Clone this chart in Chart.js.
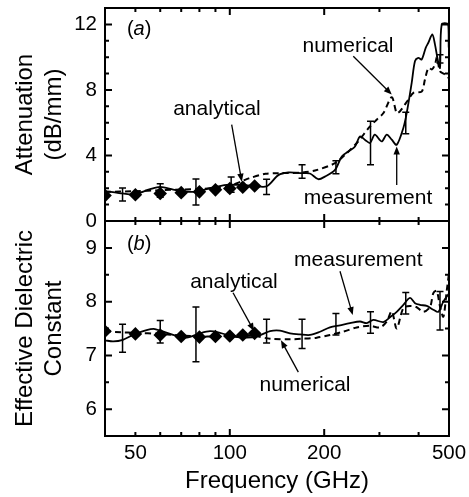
<!DOCTYPE html>
<html><head><meta charset="utf-8">
<script src="https://cdn.jsdelivr.net/npm/chart.js@4.4.1/dist/chart.umd.min.js"></script>
<style>
html,body{margin:0;padding:0;background:#fff;}
#wrap{position:relative;width:469px;height:497px;}
canvas{position:absolute;left:0;top:0;}
</style></head><body>
<div id="wrap"><canvas id="cA" width="469" height="497"></canvas><canvas id="cB" width="469" height="497"></canvas></div>
<script>
// ---------- data ----------
const xTickLabels = [50, 100, 200, 500];
const xMinorTicks = [50, 60, 70, 80, 90, 300, 400];
const xMajorTicks = [100, 200];

const attenTicks = [0, 4, 8, 12];
const attenMinorTicks = [1, 2, 3, 5, 6, 7, 9, 10, 11];
const dielTicks = [6, 7, 8, 9];
const dielMinorTicks = [6.5, 7.5, 8.5];

// (a) attenuation, dB/mm
const attenMeasFreq = [40, 42.4, 45.6, 49.5, 55.7, 60, 66, 71, 78.4, 86.5, 97.8, 107.8, 118.9, 131.2, 142.8, 153.7, 169.6, 180, 191.5, 201, 216.5, 227.5, 238.7, 250.8, 260, 270, 280, 290, 305, 316.5, 328.4, 340.6, 357.6, 366.6, 380.2, 389.6, 399.1, 409.1, 421.4, 429.6, 442.4, 451, 460.2, 468, 474, 497, 499, 500];
const attenMeas     = [1.80, 1.76, 1.68, 1.63, 1.94, 2.08, 1.92, 1.80, 1.79, 2.00, 2.20, 2.20, 2.14, 2.12, 2.80, 2.96, 2.92, 2.90, 2.55, 2.71, 3.12, 3.94, 4.24, 4.55, 5.16, 4.95, 4.76, 5.27, 4.86, 5.27, 4.96, 4.65, 5.68, 6.60, 8.43, 9.76, 9.96, 9.86, 10.57, 10.88, 11.39, 10.78, 9.86, 9.35, 12.0, 12.0, 10.6, 11.0];
const attenNumFreq  = [40, 50, 60, 70, 80, 90, 100, 110, 115, 130, 143, 170, 187, 216.5, 236, 254, 280, 294, 309, 328.4, 340.6, 349, 371, 385, 409, 419, 430, 441, 451, 458, 468, 486, 500];
const attenNum      = [1.78, 1.82, 1.88, 1.92, 1.95, 2.02, 2.15, 2.45, 2.6, 2.88, 2.92, 2.96, 3.08, 3.53, 4.14, 4.76, 5.77, 6.18, 6.59, 7.55, 6.59, 6.7, 7.41, 7.82, 7.9, 8.63, 9.35, 9.25, 9.55, 10.0, 9.14, 8.94, 8.7];
const analyticFreq  = [40, 50, 60, 70, 80, 90, 100, 110, 120];
const attenAna      = [1.55, 1.60, 1.68, 1.73, 1.78, 1.90, 1.98, 2.06, 2.14];
const errFreq       = [45.5, 60, 78, 101, 131, 170, 218, 281, 364, 468];
const attenErrMid   = [1.62, 1.86, 1.77, 2.22, 2.08, 3.02, 3.28, 4.76, 5.98, 9.9];
const attenErrHalf  = [0.40, 0.41, 0.79, 0.46, 0.47, 0.41, 0.40, 1.33, 0.65, 0.25];

// (b) effective dielectric constant
const dielMeasFreq = [40, 42.5, 45.6, 49.2, 54.3, 57.7, 66, 72.9, 80.3, 86.5, 93, 102.6, 113.2, 123, 134.4, 144.6, 155.6, 167.5, 180.2, 193.9, 208.6, 224.6, 241.7, 260.1, 273.2, 286.7, 308.7, 324.2, 340.6, 357.6, 375.5, 389.6, 404, 424.6, 445.7, 462.3, 479.7, 500];
const dielMeas     = [7.28, 7.26, 7.29, 7.38, 7.47, 7.49, 7.38, 7.33, 7.41, 7.45, 7.42, 7.35, 7.33, 7.36, 7.45, 7.46, 7.41, 7.39, 7.38, 7.44, 7.52, 7.56, 7.60, 7.63, 7.60, 7.66, 7.62, 7.71, 7.81, 7.94, 8.07, 7.97, 7.94, 7.92, 7.85, 7.81, 8.0, 8.15];
const dielNumFreq  = [40, 45, 50, 60, 70, 80, 90, 100, 110, 120, 134.4, 155.6, 171.2, 189.3, 208.6, 230.1, 253.9, 279.9, 301.3, 316.5, 328.4, 340.6, 357.6, 375.5, 393.4, 414.1, 435, 445.7, 456.8, 468, 479.7, 491.7, 500];
const dielNum      = [7.45, 7.43, 7.42, 7.40, 7.37, 7.35, 7.35, 7.35, 7.36, 7.36, 7.31, 7.30, 7.31, 7.33, 7.38, 7.44, 7.52, 7.55, 7.52, 7.63, 7.82, 7.5, 7.88, 7.92, 7.90, 7.81, 7.90, 8.16, 8.2, 7.91, 7.72, 8.2, 8.53];
const dielAna      = [7.45, 7.40, 7.38, 7.35, 7.34, 7.35, 7.36, 7.38, 7.41];
const dielErrMid   = [7.32, 7.44, 7.39, null, 7.45, 7.40, 7.58, 7.61, 7.97, 7.83];
const dielErrHalf  = [0.26, 0.21, 0.51, null, 0.22, 0.27, 0.20, 0.20, 0.20, 0.36];

// ---------- rendering ----------
const FAM = "'Liberation Sans', Arial, Helvetica, sans-serif";
const pts = (fs, vs) => fs.map((f, i) => ({x: f, y: vs[i]}));

function drawArrow(ctx, x1, y1, x2, y2) {
  const a = Math.atan2(y2 - y1, x2 - x1), L = 8, W = 3.2;
  ctx.beginPath(); ctx.moveTo(x1, y1);
  ctx.lineTo(x2 - L * 0.7 * Math.cos(a), y2 - L * 0.7 * Math.sin(a)); ctx.stroke();
  ctx.beginPath(); ctx.moveTo(x2, y2);
  ctx.lineTo(x2 - L * Math.cos(a) + W * Math.sin(a), y2 - L * Math.sin(a) - W * Math.cos(a));
  ctx.lineTo(x2 - L * Math.cos(a) - W * Math.sin(a), y2 - L * Math.sin(a) + W * Math.cos(a));
  ctx.closePath(); ctx.fill();
}

function makeDecor(p) {
  return {
    id: 'decor',
    afterDatasetsDraw(chart) {
      const {ctx, chartArea: a, scales: {x, y}} = chart;
      ctx.save();
      ctx.strokeStyle = '#000'; ctx.fillStyle = '#000';
      // error bars
      ctx.lineWidth = 1.5;
      ctx.beginPath();
      errFreq.forEach((f, i) => {
        const c = p.errMid[i], e = p.errHalf[i];
        if (c == null) return;
        const px = x.getPixelForValue(f), p1 = y.getPixelForValue(c - e), p2 = y.getPixelForValue(c + e);
        ctx.moveTo(px, p1); ctx.lineTo(px, p2);
        ctx.moveTo(px - 3.5, p1); ctx.lineTo(px + 3.5, p1);
        ctx.moveTo(px - 3.5, p2); ctx.lineTo(px + 3.5, p2);
      });
      ctx.stroke();
      // frame + inward ticks
      ctx.lineWidth = 2;
      ctx.strokeRect(a.left, a.top, a.right - a.left, a.bottom - a.top);
      ctx.beginPath();
      const xt = (list, len) => list.forEach(f => {
        const px = x.getPixelForValue(f);
        ctx.moveTo(px, a.bottom); ctx.lineTo(px, a.bottom - len);
        ctx.moveTo(px, a.top); ctx.lineTo(px, a.top + len);
      });
      const yt = (list, len) => list.forEach(v => {
        const py = y.getPixelForValue(v);
        ctx.moveTo(a.left, py); ctx.lineTo(a.left + len, py);
        ctx.moveTo(a.right, py); ctx.lineTo(a.right - len, py);
      });
      xt(xMinorTicks, 4); xt(xMajorTicks, 7);
      yt(p.yMinor, 4); yt(p.yTicks, 7);
      ctx.stroke();
      // annotations
      ctx.lineWidth = 1.3;
      ctx.font = '21px ' + FAM;
      ctx.textAlign = 'center'; ctx.textBaseline = 'alphabetic';
      p.notes.forEach(n => {
        ctx.fillText(n.text, x.getPixelForValue(n.at[0]), y.getPixelForValue(n.at[1]));
        drawArrow(ctx, x.getPixelForValue(n.from[0]), y.getPixelForValue(n.from[1]),
                       x.getPixelForValue(n.to[0]), y.getPixelForValue(n.to[1]));
      });
      // panel label "(a)" / "(b)"
      ctx.textAlign = 'left'; ctx.textBaseline = 'middle';
      let lx = x.getPixelForValue(p.tag.at[0]); const ly = y.getPixelForValue(p.tag.at[1]);
      ctx.font = '20px ' + FAM; ctx.fillText('(', lx, ly); lx += ctx.measureText('(').width;
      ctx.font = 'italic 20px ' + FAM; ctx.fillText(p.tag.letter, lx, ly); lx += ctx.measureText(p.tag.letter).width;
      ctx.font = '20px ' + FAM; ctx.fillText(')', lx, ly);
      ctx.restore();
    }
  };
}

function panel(canvasId, p) {
  return new Chart(document.getElementById(canvasId), {
    type: 'line',
    data: { datasets: [
      { label: 'measurement', data: pts(p.measF, p.measV), borderColor: '#000', borderWidth: 1.8, pointRadius: 0, tension: 0.3, fill: false, order: 3 },
      { label: 'numerical', data: pts(p.numF, p.numV), borderColor: '#000', borderWidth: 2, borderDash: [6, 4], pointRadius: 0, tension: 0.3, fill: false, order: 2 },
      { label: 'analytical', data: pts(analyticFreq, p.anaV), showLine: false, pointStyle: 'rectRot', pointRadius: 6.8, pointBackgroundColor: '#000', pointBorderColor: '#000', pointBorderWidth: 0, order: 1 }
    ]},
    options: {
      responsive: false, animation: false, events: [],
      layout: { padding: { top: p.padTop, right: 20, left: 0, bottom: 0 } },
      plugins: { legend: { display: false }, tooltip: { enabled: false } },
      scales: {
        x: {
          type: 'logarithmic', min: 40, max: 500, position: 'bottom',
          grid: { display: false, drawTicks: false, tickLength: 0 }, border: { display: false },
          ticks: { display: p.showX, autoSkip: false, maxRotation: 0, padding: 5, color: '#000',
                   font: { family: FAM, size: 20.5 }, callback: v => String(v) },
          afterBuildTicks: s => { s.ticks = xTickLabels.map(v => ({ value: v })); },
          title: { display: p.showX, text: 'Frequency (GHz)', color: '#000', font: { family: FAM, size: 24 }, padding: { top: 0, bottom: 1 } },
          afterFit: s => { s.height = p.xAxisHeight; s.paddingLeft = 0; s.paddingRight = 0; }
        },
        y: {
          min: p.yMin, max: p.yMax,
          grid: { display: false, drawTicks: false, tickLength: 0 }, border: { display: false },
          ticks: { padding: 8, color: '#000', font: { family: FAM, size: 20.5 }, callback: v => String(v) },
          afterBuildTicks: s => { s.ticks = p.yTicks.map(v => ({ value: v })); },
          title: { display: true, text: p.yTitle, color: '#000', font: { family: FAM, size: 24 }, padding: { top: 11, bottom: 0 } },
          afterFit: s => { s.width = 105; s.paddingTop = 0; s.paddingBottom = 0; }
        }
      }
    },
    plugins: [makeDecor(p)]
  });
}

panel('cA', {
  measF: attenMeasFreq, measV: attenMeas, numF: attenNumFreq, numV: attenNum, anaV: attenAna,
  errMid: attenErrMid, errHalf: attenErrHalf,
  yMin: 0, yMax: 13, yTicks: attenTicks, yMinor: attenMinorTicks, yTitle: ['Attenuation', '(dB/mm)'],
  showX: false, padTop: 8, xAxisHeight: 276,
  tag: { letter: 'a', at: [47, 11.67] },
  notes: [
    { text: 'analytical',  at: [91, 6.49],     from: [101.4, 5.88], to: [109.2, 2.4] },
    { text: 'numerical',   at: [238.2, 10.29], from: [247.6, 10.06], to: [328.4, 7.72] },
    { text: 'measurement', at: [275.9, 1.01],  from: [340.6, 2.2],  to: [340.6, 4.55] }
  ]
});

panel('cB', {
  measF: dielMeasFreq, measV: dielMeas, numF: dielNumFreq, numV: dielNum, anaV: dielAna,
  errMid: dielErrMid, errHalf: dielErrHalf,
  yMin: 5.5, yMax: 9.5, yTicks: dielTicks, yMinor: dielMinorTicks, yTitle: ['Effective Dielectric', 'Constant'],
  showX: true, padTop: 221, xAxisHeight: 61,
  tag: { letter: 'b', at: [47, 9.056] },
  notes: [
    { text: 'analytical',  at: [103.1, 8.259], from: [102.4, 8.165], to: [119.5, 7.452] },
    { text: 'measurement', at: [256.9, 8.659], from: [224.6, 8.565], to: [246.6, 7.752] },
    { text: 'numerical',   at: [173.7, 6.345], from: [165.4, 6.689], to: [145.6, 7.283] }
  ]
});
</script>
</body></html>
